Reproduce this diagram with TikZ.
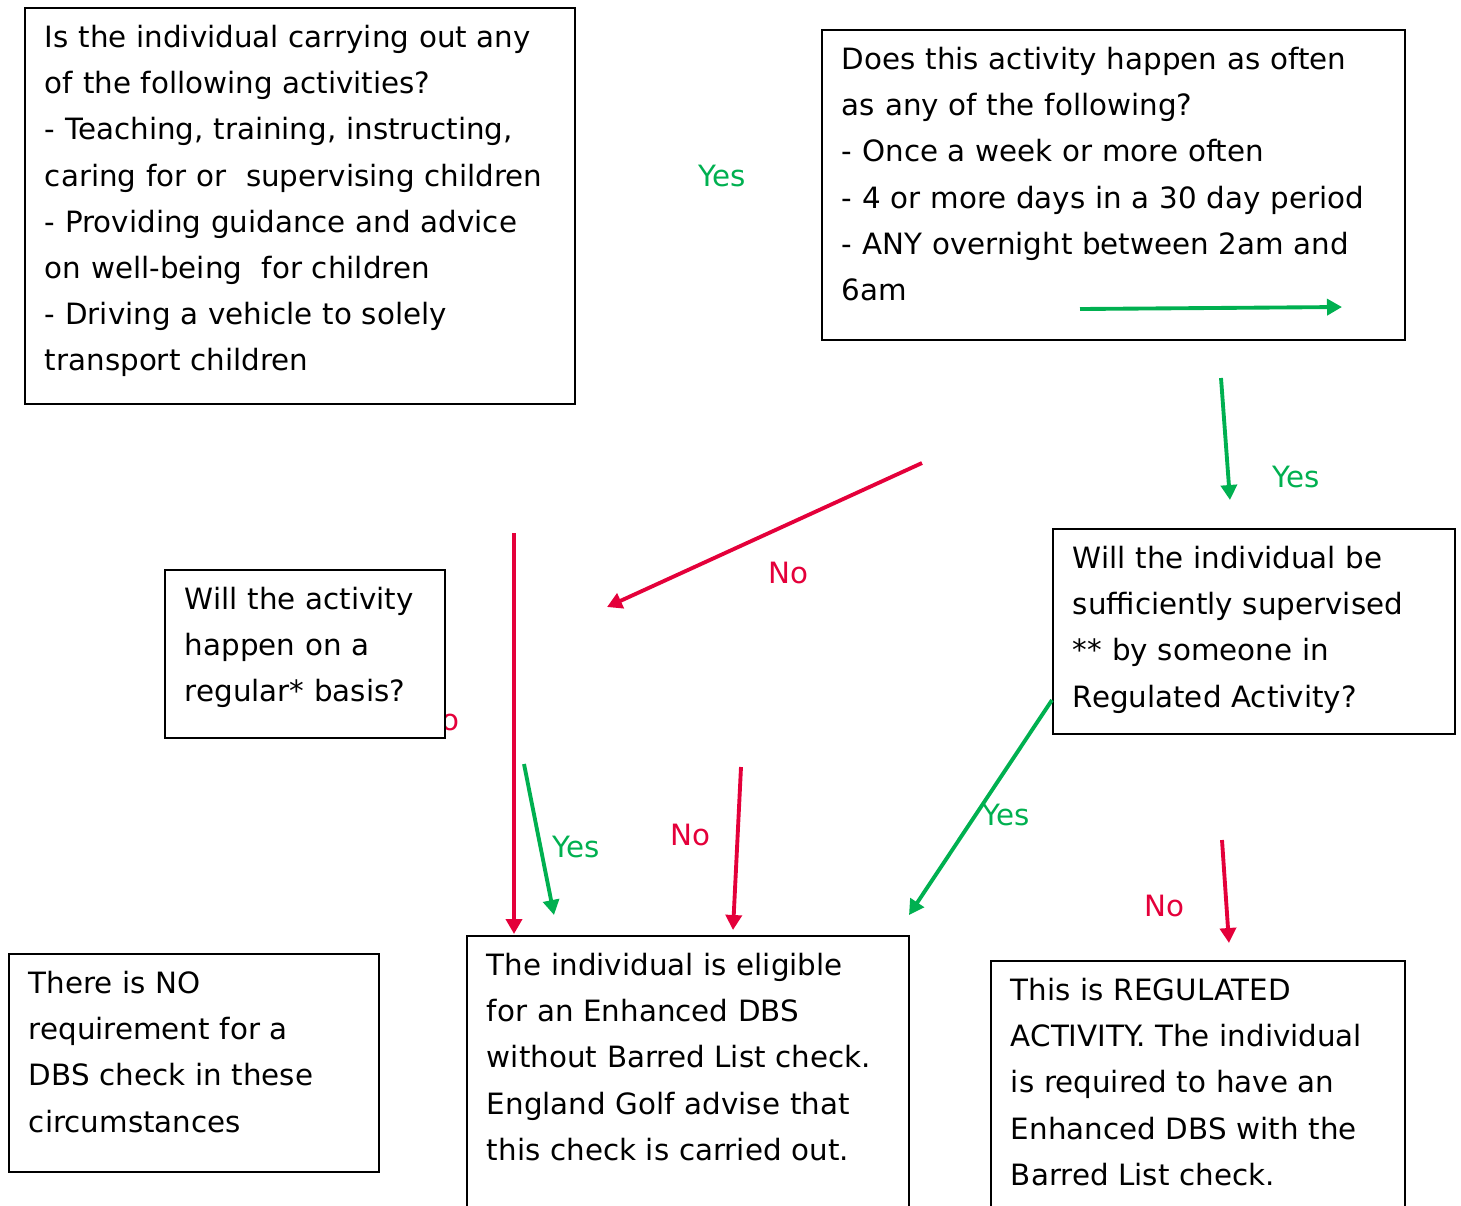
\documentclass[tikz,border=0pt]{standalone}
\usepackage{fontspec}
\setmainfont{DejaVu Sans}
\usetikzlibrary{arrows.meta}

\definecolor{yesgreen}{RGB}{0,176,80}
\definecolor{nored}{RGB}{228,0,58}

\begin{document}
\begin{tikzpicture}[x=0.02cm, y=-0.02cm, font=\fontsize{16.7}{26.3}\selectfont]

    % Define block styles
    \tikzstyle{block} = [rectangle, draw, fill=white, line width=1.1pt,
        anchor=north west, align=left, inner xsep=0.4cm, inner ysep=0pt, text height=0.79cm]
    \tikzstyle{yesline} = [draw, yesgreen, line width=2.2pt, -{Triangle[length=0.3cm,width=0.32cm]}]
    \tikzstyle{noline} = [draw, nored, line width=2.2pt, -{Triangle[length=0.3cm,width=0.32cm]}]
    \tikzstyle{yeslabel} = [text=yesgreen]
    \tikzstyle{nolabel} = [text=nored]

    \useasboundingbox (0,0) rectangle (1461,1205);

    % Place labels
    \node [nolabel] (regno0) at (439,720) {No};
    \node [yeslabel] (actyes) at (722,176) {Yes};
    \node [yeslabel] (oftenyes) at (1296,477) {Yes};
    \node [nolabel] (oftenno) at (788,573) {No};
    \node [yeslabel] (regyes) at (576,847) {Yes};
    \node [nolabel] (regno) at (690,835) {No};
    \node [yeslabel] (supyes) at (1006,815) {Yes};
    \node [nolabel] (supno) at (1164,906) {No};

    % Place nodes
    \node [block, text width=10.2cm, text depth=7.13cm] (activities) at (24,7)
        {Is the individual carrying out any\\ of the following activities?\\
         - Teaching, training, instructing,\\ caring for or~ supervising children\\
         - Providing guidance and advice\\ on well-being~ for children\\
         - Driving a vehicle to solely\\ transport children};
    \node [block, text width=10.86cm, text depth=5.41cm] (frequency) at (821,29)
        {Does this activity happen as often\\ as any of the following?\\
         - Once a week or more often\\ - 4 or more days in a 30 day period\\
         - ANY overnight between 2am and\\ 6am};
    \node [block, text width=4.8cm, text depth=2.57cm] (regular) at (164,569)
        {Will the activity\\ happen on a\\ regular* basis?};
    \node [block, text width=7.24cm, text depth=3.31cm] (supervised) at (1052,528)
        {Will the individual be\\ sufficiently supervised\\ {**} by someone in\\ Regulated Activity?};
    \node [block, text width=6.6cm, text depth=3.57cm] (nocheck) at (8,953)
        {There is NO\\ requirement for a\\ DBS check in these\\ circumstances};
    \node [block, text width=8.04cm, text depth=4.81cm] (enhanced) at (466,935)
        {The individual is eligible\\ for an Enhanced DBS\\ without Barred List check.\\
         England Golf advise that\\ this check is carried out.};
    \node [block, text width=7.48cm, text depth=4.31cm] (regulated) at (990,960)
        {This is REGULATED\\ ACTIVITY. The individual\\ is required to have an\\
         Enhanced DBS with the\\ Barred List check.};

    % Place arrow ends
    \coordinate (often1) at (1080,309);
    \coordinate (often2) at (1342,307);
    \coordinate (super1) at (1221,378);
    \coordinate (super2) at (1230,500);
    \coordinate (rare1) at (922,463);
    \coordinate (rare2) at (607,607);
    \coordinate (drop1) at (514,533);
    \coordinate (drop2) at (514,934);
    \coordinate (regyes1) at (524,764);
    \coordinate (regyes2) at (554,915);
    \coordinate (regno1) at (741,767);
    \coordinate (regno2) at (733,930);
    \coordinate (supyes1) at (1052,700);
    \coordinate (supyes2) at (909,915);
    \coordinate (supno1) at (1222,840);
    \coordinate (supno2) at (1229,943);

    % Draw edges
    \path [yesline] (often1) -- (often2);
    \path [yesline] (super1) -- (super2);
    \path [noline] (rare1) -- (rare2);
    \path [noline] (drop1) -- (drop2);
    \path [yesline] (regyes1) -- (regyes2);
    \path [noline] (regno1) -- (regno2);
    \path [yesline] (supyes1) -- (supyes2);
    \path [noline] (supno1) -- (supno2);

\end{tikzpicture}
\end{document}
